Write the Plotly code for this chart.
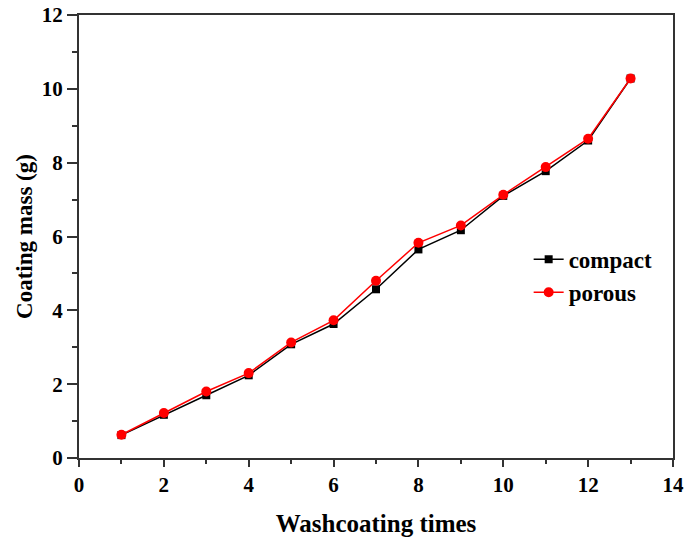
import plotly.graph_objects as go

times = [1, 2, 3, 4, 5, 6, 7, 8, 9, 10, 11, 12, 13]
compact = [0.62, 1.17, 1.70, 2.24, 3.08, 3.63, 4.57, 5.65, 6.17, 7.10, 7.77, 8.60, 10.28]
porous = [0.63, 1.22, 1.80, 2.30, 3.13, 3.73, 4.80, 5.83, 6.30, 7.13, 7.88, 8.65, 10.28]

font_family = "Liberation Serif"

fig = go.Figure()
fig.add_trace(go.Scatter(
    x=times, y=compact, name="compact", mode="lines+markers",
    line=dict(color="black", width=1.5),
    marker=dict(symbol="square", size=8, color="black"),
))
fig.add_trace(go.Scatter(
    x=times, y=porous, name="porous", mode="lines+markers",
    line=dict(color="red", width=1.5),
    marker=dict(symbol="circle", size=10, color="red"),
))

axis_common = dict(
    showgrid=False, zeroline=False, showline=True, linecolor="#333", linewidth=2,
    mirror=True, ticks="outside", tickwidth=2, tickcolor="#333", automargin=False,
    tickfont=dict(family=font_family, size=21, color="black", weight="bold"),
)

fig.update_xaxes(
    range=[0, 14], tick0=0, dtick=2, ticklen=7,
    minor=dict(ticks="outside", ticklen=4, tickwidth=2, tickcolor="#333", dtick=1, showgrid=False),
    title=dict(text="<b>Washcoating times</b>", font=dict(family=font_family, size=25, color="black"), standoff=18),
    **axis_common,
)
fig.update_yaxes(
    range=[0, 12], tick0=0, dtick=2, ticklen=10,
    minor=dict(ticks="outside", ticklen=5, tickwidth=2, tickcolor="#333", dtick=1, showgrid=False),
    title=dict(text="<b>Coating mass (g)</b>", font=dict(family=font_family, size=23, color="black"), standoff=3),
    **axis_common,
)

fig.update_layout(
    width=687, height=540,
    margin=dict(l=79, r=14, t=15, b=82),
    plot_bgcolor="white", paper_bgcolor="white",
    legend=dict(
        x=0.757, y=0.497, xanchor="left", yanchor="top",
        font=dict(family=font_family, size=23, color="black", weight="bold"),
        bgcolor="rgba(0,0,0,0)", tracegroupgap=0,
    ),
)

fig.write_html("out.html")
